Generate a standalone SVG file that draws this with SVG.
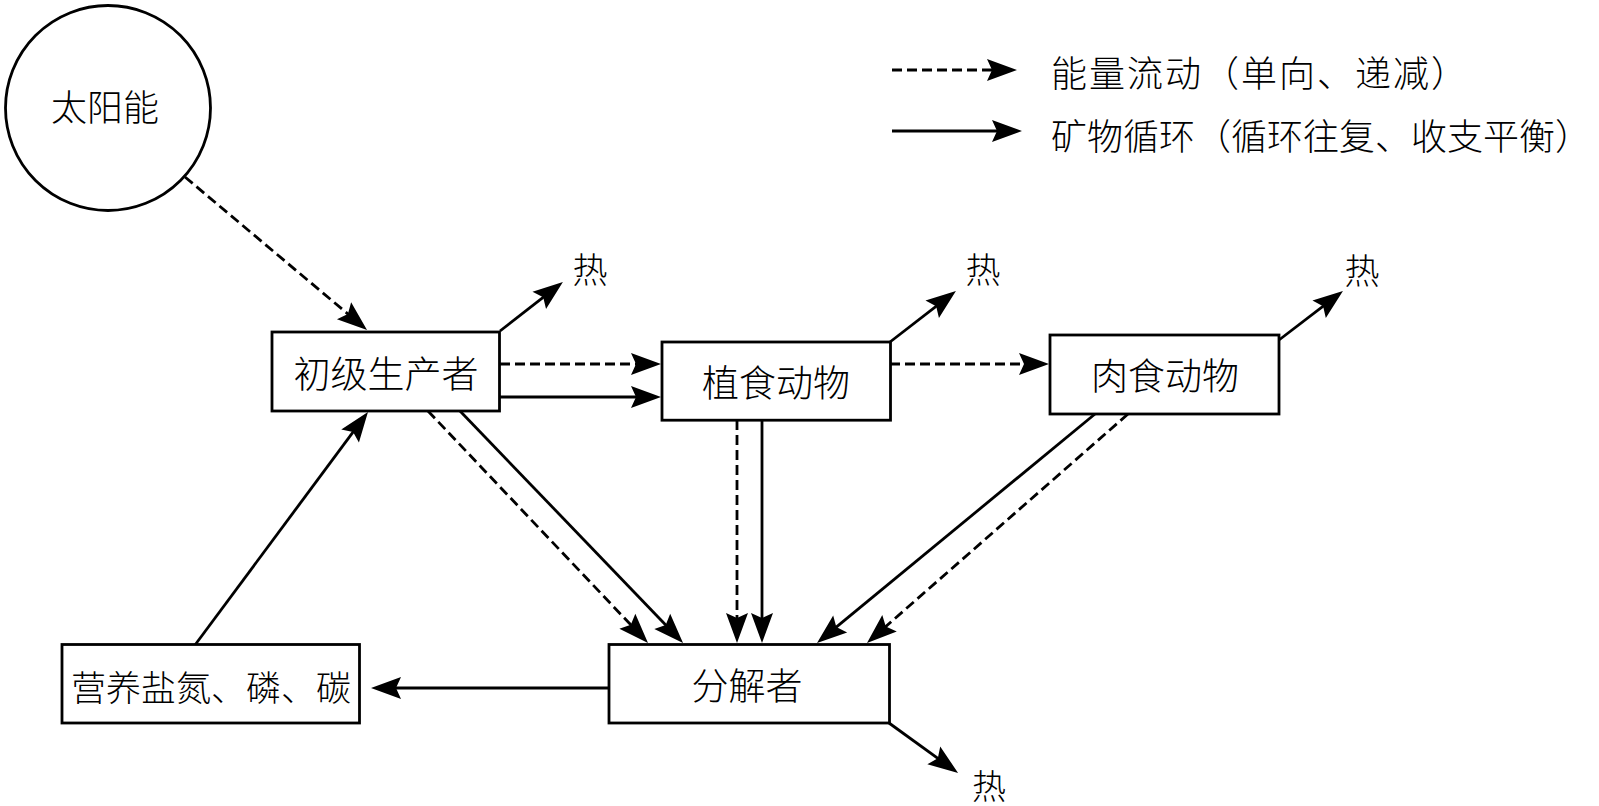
<svg xmlns="http://www.w3.org/2000/svg" width="1599" height="806" viewBox="0 0 1599 806">
<style>
.box{fill:#fff;stroke:#000;stroke-width:2.8}
.ln{fill:none;stroke:#000;stroke-width:2.8}
.ds{stroke-dasharray:10 5}
.t{font-family:"Noto Sans CJK SC","Noto Sans CJK TC",sans-serif;font-weight:300;fill:#000;dominant-baseline:central}
.c{text-anchor:middle}
.lg{letter-spacing:2px}
</style>
<defs>
<marker id="ah" markerUnits="userSpaceOnUse" orient="auto" refX="0" refY="0" markerWidth="40" markerHeight="30" overflow="visible">
<path d="M8,0 L-22,-11 L-17,0 L-22,11 Z" fill="#000"/>
</marker>
</defs>
<rect width="1599" height="806" fill="#fff"/>

<g id="connectors">
<line class="ln ds" x1="185" y1="177" x2="360.9" y2="324.9" marker-end="url(#ah)"/>
<line class="ln" x1="500" y1="331" x2="556.6" y2="286.8" marker-end="url(#ah)"/>
<line class="ln ds" x1="500" y1="364" x2="653" y2="364" marker-end="url(#ah)"/>
<line class="ln" x1="500" y1="397" x2="653" y2="397" marker-end="url(#ah)"/>
<line class="ln" x1="890" y1="342" x2="949.6" y2="295.8" marker-end="url(#ah)"/>
<line class="ln ds" x1="890" y1="364" x2="1041" y2="364" marker-end="url(#ah)"/>
<line class="ln" x1="1279" y1="340" x2="1336.6" y2="295.9" marker-end="url(#ah)"/>
<line class="ln ds" x1="428" y1="411" x2="642.5" y2="637.2" marker-end="url(#ah)"/>
<line class="ln" x1="460" y1="411" x2="677.5" y2="637.2" marker-end="url(#ah)"/>
<line class="ln ds" x1="737" y1="420" x2="737" y2="635" marker-end="url(#ah)"/>
<line class="ln" x1="762" y1="420" x2="762" y2="635" marker-end="url(#ah)"/>
<line class="ln" x1="1095" y1="414" x2="823.2" y2="637.9" marker-end="url(#ah)"/>
<line class="ln ds" x1="1128" y1="414" x2="873" y2="637.7" marker-end="url(#ah)"/>
<line class="ln" x1="609" y1="688" x2="379" y2="688" marker-end="url(#ah)"/>
<line class="ln" x1="195" y1="645" x2="363.2" y2="418.4" marker-end="url(#ah)"/>
<line class="ln" x1="889" y1="723" x2="951.6" y2="768.3" marker-end="url(#ah)"/>
</g>

<g id="sun">
<circle cx="108" cy="108" r="102.5" fill="#fff" stroke="#000" stroke-width="2.8"/>
<text class="t c" x="105" y="105" font-size="36">太阳能</text>
</g>
<g id="producer">
<rect class="box" x="272" y="332" width="227.5" height="79"/>
<text class="t c" x="386" y="372" font-size="37">初级生产者</text>
</g>
<g id="herbivore">
<rect class="box" x="662" y="342" width="228.5" height="78.2"/>
<text class="t c" x="776" y="381" font-size="37">植食动物</text>
</g>
<g id="carnivore">
<rect class="box" x="1050" y="335" width="229" height="79"/>
<text class="t c" x="1165" y="374" font-size="37">肉食动物</text>
</g>
<g id="decomposer">
<rect class="box" x="609" y="644.5" width="280.5" height="78.5"/>
<text class="t c" x="747" y="684" font-size="37">分解者</text>
</g>
<g id="nutrients">
<rect class="box" x="62" y="644.5" width="297.5" height="78.5"/>
<text class="t c" x="211" y="685" font-size="35">营养盐氮、磷、碳</text>
</g>
<g id="heat1"><text class="t c" x="590" y="267" font-size="35">热</text></g>
<g id="heat2"><text class="t c" x="983" y="267" font-size="35">热</text></g>
<g id="heat3"><text class="t c" x="1362" y="268" font-size="35">热</text></g>
<g id="heat4"><text class="t c" x="989" y="784" font-size="34">热</text></g>

<g id="legend">
<line class="ln ds" x1="892" y1="70" x2="1009" y2="70" marker-end="url(#ah)"/>
<line class="ln" x1="892" y1="131" x2="1014" y2="131" marker-end="url(#ah)"/>
<text class="t lg" x="1051" y="71" font-size="36">能量流动（单向、递减）</text>
<text class="t" x="1051" y="134" font-size="36">矿物循环（循环往复、收支平衡）</text>
</g>
</svg>
